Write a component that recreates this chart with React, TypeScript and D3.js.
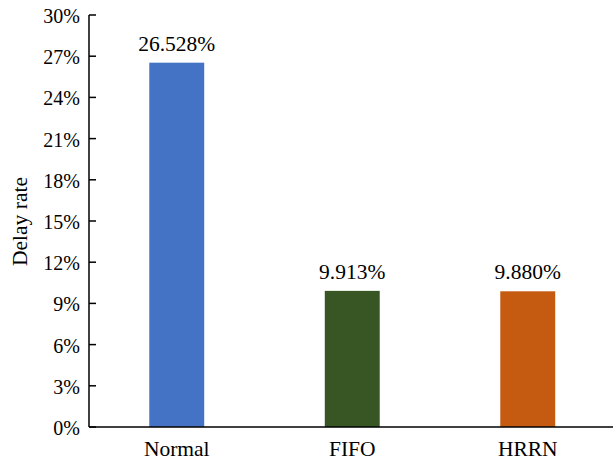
import React from "react";
import * as d3 from "d3";

const categories = ["Normal", "FIFO", "HRRN"];
const values = [26.528, 9.913, 9.88];
const valueLabels = ["26.528%", "9.913%", "9.880%"];
const colors = ["#4472C4", "#375623", "#C55A11"];
const yTicks = [0, 3, 6, 9, 12, 15, 18, 21, 24, 27, 30];

const W = 613;
const H = 462;
const left = 89;
const right = 615.5;
const top = 15;
const bottom = 427;
const font = '"Times New Roman", "Liberation Serif", Times, serif';
const ts: React.CSSProperties = { fontFamily: font };

export default function App() {
  const x = d3
    .scaleBand<string>()
    .domain(categories)
    .range([left, right])
    .paddingInner(0.687)
    .paddingOuter(0.3435);
  const y = d3.scaleLinear().domain([0, 30]).range([bottom, top]);

  return (
    <svg
      width={W}
      height={H}
      style={{ position: "absolute", left: 0, top: 0, fontFamily: font }}
    >
      {categories.map((c, i) => (
        <g key={c}>
          <rect
            x={x(c)}
            y={y(values[i])}
            width={x.bandwidth()}
            height={bottom - y(values[i])}
            fill={colors[i]}
          />
          <text
            x={(x(c) as number) + x.bandwidth() / 2}
            y={y(values[i]) - 12}
            textAnchor="middle"
            fontSize={21.5}
            fill="#000"
            style={ts}
          >
            {valueLabels[i]}
          </text>
          <text
            x={(x(c) as number) + x.bandwidth() / 2}
            y={455.5}
            textAnchor="middle"
            fontSize={21.5}
            fill="#000"
            style={ts}
          >
            {c}
          </text>
        </g>
      ))}
      {/* y axis */}
      <line x1={left} x2={left} y1={top} y2={bottom} stroke="#000" strokeWidth={1.5} />
      {yTicks.map((t) => (
        <g key={t}>
          <line x1={left} x2={left + 7} y1={y(t)} y2={y(t)} stroke="#000" strokeWidth={1.5} />
          <text
            x={80}
            y={y(t)}
            dy="0.4em"
            textAnchor="end"
            fontSize={20}
            fill="#000"
            style={ts}
          >
            {t}%
          </text>
        </g>
      ))}
      {/* x axis */}
      <line x1={left} x2={W} y1={bottom} y2={bottom} stroke="#000" strokeWidth={1.5} />
      <text
        transform={`translate(27, 221.5) rotate(-90)`}
        textAnchor="middle"
        fontSize={21.5}
        fill="#000"
        style={ts}
      >
        Delay rate
      </text>
    </svg>
  );
}
